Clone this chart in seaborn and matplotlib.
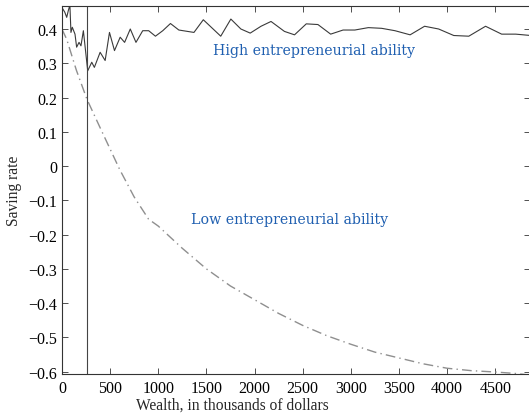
import matplotlib
matplotlib.use("Agg")
import matplotlib.pyplot as plt
import pandas as pd
import seaborn as sns

# Saving rate vs wealth, high / low entrepreneurial ability

wealth_high = [0, 30, 50, 66, 83, 94, 108, 136, 153, 178, 198, 223, 268, 310, 337,
               397, 449, 494, 546, 605, 651, 710, 769, 839, 901, 971, 1047, 1127,
               1214, 1371, 1468, 1649, 1754, 1858, 1955, 2067, 2171, 2310, 2415,
               2537, 2658, 2790, 2919, 3041, 3181, 3319, 3458, 3615, 3765, 3911,
               4068, 4224, 4398, 4565, 4711, 4868]
saving_high = [0.463, 0.449, 0.434, 0.453, 0.47, 0.39, 0.405, 0.385, 0.347, 0.361,
               0.351, 0.395, 0.278, 0.303, 0.288, 0.332, 0.308, 0.39, 0.337, 0.376,
               0.361, 0.40, 0.361, 0.395, 0.395, 0.379, 0.395, 0.416, 0.397, 0.39,
               0.427, 0.379, 0.429, 0.40, 0.388, 0.408, 0.422, 0.393, 0.383, 0.415,
               0.413, 0.385, 0.397, 0.397, 0.404, 0.402, 0.395, 0.383, 0.408, 0.40,
               0.381, 0.379, 0.408, 0.385, 0.385, 0.381]

wealth_low = [0, 50, 100, 150, 260, 400, 500, 600, 750, 900, 1000, 1250, 1500,
              1750, 2000, 2250, 2500, 2750, 3000, 3250, 3500, 3750, 4000, 4250,
              4500, 4700, 4860]
saving_low = [0.40, 0.37, 0.325, 0.28, 0.195, 0.11, 0.05, -0.01, -0.09, -0.155,
              -0.175, -0.24, -0.30, -0.35, -0.39, -0.43, -0.465, -0.495, -0.52,
              -0.543, -0.56, -0.577, -0.59, -0.597, -0.601, -0.605, -0.61]

x_ticks = [0, 500, 1000, 1500, 2000, 2500, 3000, 3500, 4000, 4500]
y_ticks = [-0.6, -0.5, -0.4, -0.3, -0.2, -0.1, 0, 0.1, 0.2, 0.3, 0.4]
threshold = 260

high = pd.DataFrame({"wealth": wealth_high, "saving": saving_high})
low = pd.DataFrame({"wealth": wealth_low, "saving": saving_low})

sns.set_style("ticks")
plt.rcParams["font.family"] = ["Liberation Serif", "DejaVu Serif"]
plt.rcParams["axes.edgecolor"] = "#333333"
plt.rcParams["axes.linewidth"] = 0.8

fig = plt.figure(figsize=(5.29, 4.14), dpi=100)
ax = fig.add_axes([0.117, 0.094, 0.885, 0.889])

sns.lineplot(data=high, x="wealth", y="saving", ax=ax, color="#3a3a3a",
             linewidth=0.8, estimator=None, sort=False)
sns.lineplot(data=low, x="wealth", y="saving", ax=ax, color="#8f8f8f",
             linewidth=1.0, estimator=None, sort=False)
ax.lines[-1].set_dashes([7, 3, 1, 3])
ax.axvline(threshold, color="#444444", linewidth=0.8)

ax.set_xlim(0, 4860)
ax.set_ylim(-0.607, 0.467)
ax.set_xticks(x_ticks)
ax.set_yticks(y_ticks)
ax.set_yticklabels(["\u22120.6", "\u22120.5", "\u22120.4", "\u22120.3", "\u22120.2",
                    "\u22120.1", "0", "0.1", "0.2", "0.3", "0.4"])
ax.tick_params(direction="in", top=True, right=True, labelsize=11.5,
               length=4, width=0.6, colors="#333333", labelcolor="black")
ax.tick_params(axis="x", pad=4)

ax.set_xlabel("Wealth, in thousands of dollars", fontsize=11.2)
ax.set_ylabel("Saving rate", fontsize=11.2)
ax.xaxis.set_label_coords(0.365, -0.06)
ax.yaxis.set_label_coords(-0.085, 0.5)

ax.text(2620, 0.34, "High entrepreneurial ability", color="#1f5fb0",
        fontsize=10.2, ha="center", va="center", family=["DejaVu Serif"])
ax.text(2360, -0.155, "Low entrepreneurial ability", color="#1f5fb0",
        fontsize=10.2, ha="center", va="center", family=["DejaVu Serif"])

fig.savefig("out.png", dpi=100)
